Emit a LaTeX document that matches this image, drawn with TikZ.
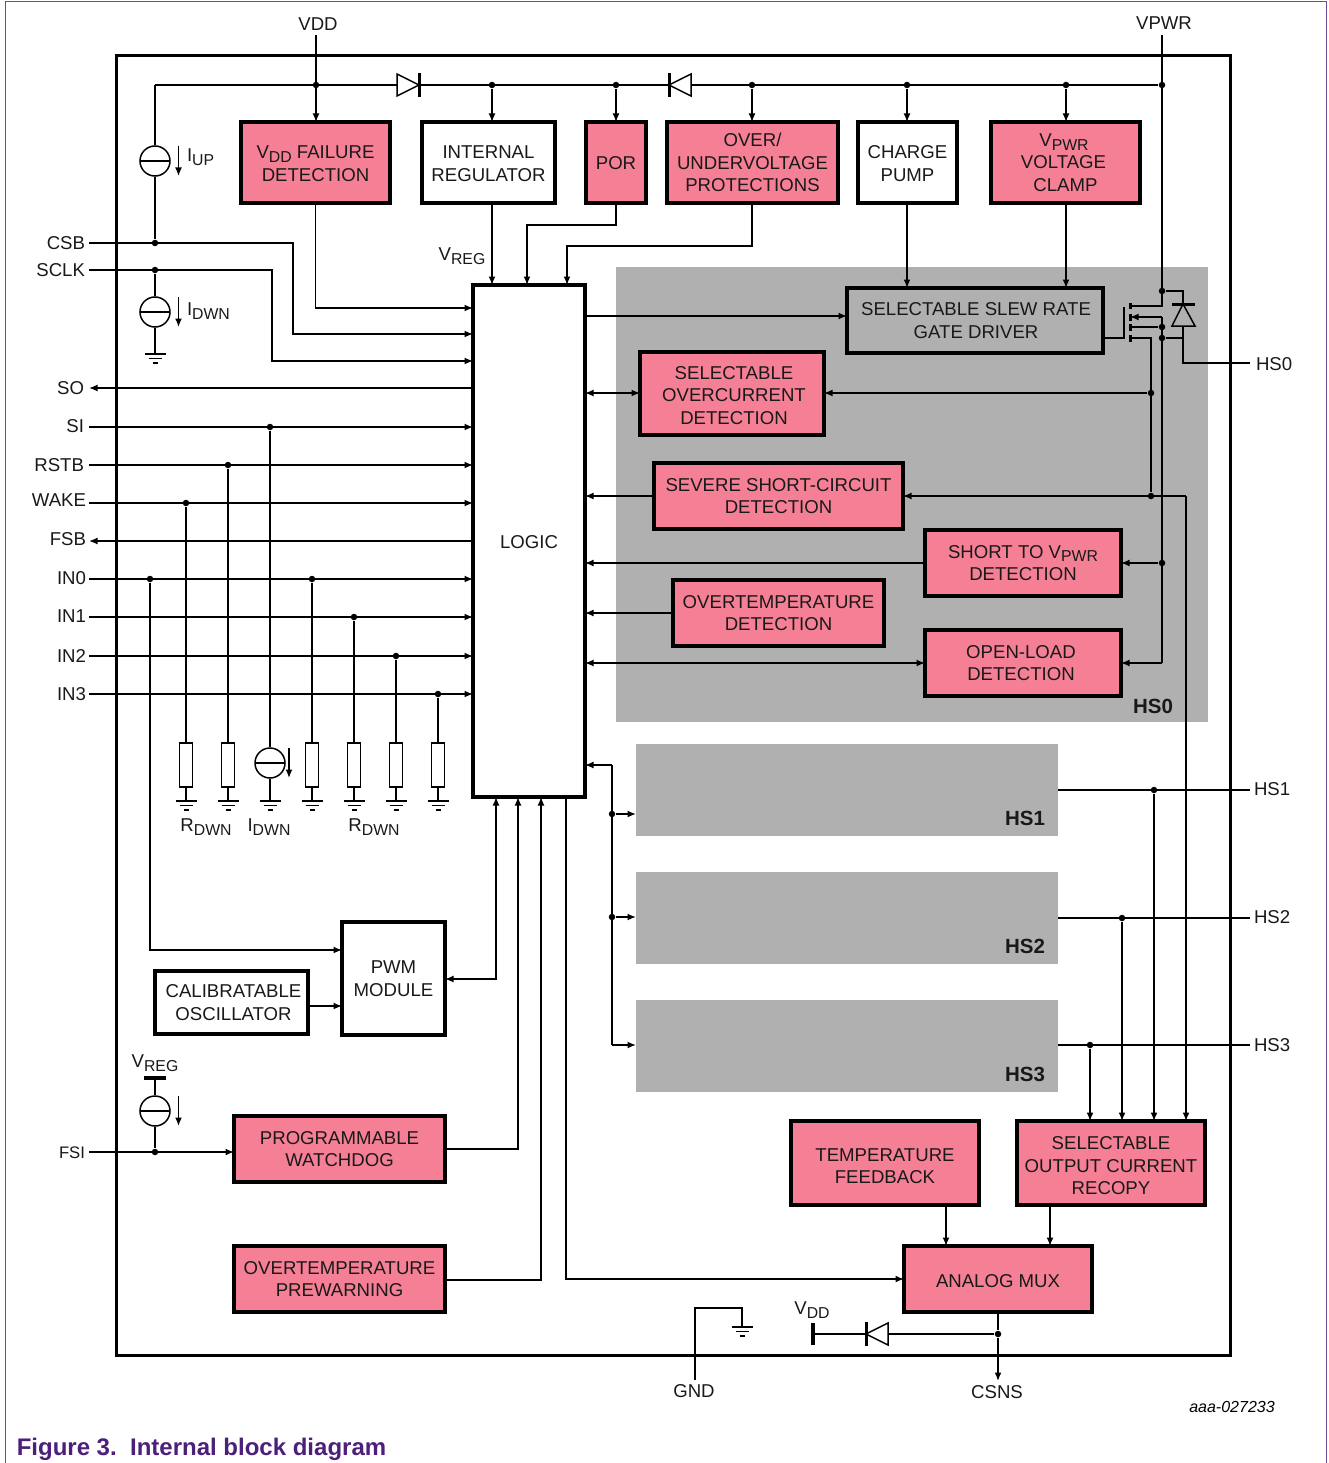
\documentclass[tikz,border=0pt]{standalone}
\usepackage{fontspec}
\setmainfont{Liberation Sans}
\usetikzlibrary{arrows.meta,calc}
\definecolor{pinkf}{HTML}{F58095}
\definecolor{grayf}{HTML}{B0B0B0}
\definecolor{framec}{HTML}{6B4A96}
\definecolor{capc}{HTML}{4B1F7A}
\newcommand{\lw}[1]{\raisebox{-0.2em}{\fontsize{15.8}{16}\selectfont #1}}
\newcommand{\dn}[1]{\rule{0pt}{#1pt}}
\newcommand{\blk}[7]{\node[#2,minimum width={(#5-#3)*1pt},minimum height={(#6-#4)*1pt}] (#1) at ({(#3+#5)/2},{(#4+#6)/2}) {#7};}
\newcommand{\diode}[4]{%
  \draw[thinl,fill=#4,line join=miter] ({#1},{#2-11}) -- ({#1+#3*22},{#2}) -- ({#1},{#2+11}) -- cycle;
  \draw[line width=3pt] ({#1+#3*22},{#2-12}) -- ({#1+#3*22},{#2+12});}
\newcommand{\curarrow}[2]{\draw[arr] ([xshift=#2pt,yshift=15pt]#1.center) -- ([xshift=#2pt,yshift=-15pt]#1.center);}
\tikzset{
  x=1pt,y=-1pt,
  thinl/.style={line width=1.5pt},
  every path/.append style={line width=1.5pt},
  arr/.style={line width=1.5pt,-{Latex[length=8.5pt,width=7pt]}},
  arrb/.style={line width=1.5pt,{Latex[length=8.5pt,width=7pt]}-{Latex[length=8.5pt,width=7pt]}},
  txt/.style={font=\fontsize{18.6}{22.5}\selectfont,align=center,inner sep=0pt,outer sep=0pt,text=black!90},
  pinkbox/.style={txt,draw=black,fill=pinkf,line width=3.2pt},
  whitebox/.style={txt,draw=black,fill=white,line width=3.2pt},
  graybox/.style={txt,draw=black,line width=3.2pt},
  shade/.style={fill=grayf,draw=none,inner sep=0pt,outer sep=0pt},
  lab/.style={txt},
  hsl/.style={font=\fontsize{20.5}{22}\selectfont\bfseries,inner sep=0pt,text=black!90},
  dot/.style={circle,fill=black,draw=none,inner sep=0pt,minimum size=6.5pt},
  csrc/.style={circle,draw=black,line width=1.5pt,fill=white,inner sep=0pt,minimum size=30pt,
    path picture={\draw[line width=1.5pt] (path picture bounding box.west) -- (path picture bounding box.east);}},
  res/.style={rectangle,draw=black,line width=1.5pt,fill=white,inner sep=0pt,minimum width=13pt,minimum height=44pt},
  gnd/.pic={\draw[line width=1.5pt] (-10.5,0) -- (10.5,0) (-6.5,4.5) -- (6.5,4.5) (-2.5,9) -- (2.5,9);}
}
\begin{document}
\begin{tikzpicture}
\useasboundingbox (0,0) rectangle (1328,1463);
\fill[white] (0,0) rectangle (1328,1463);
% outer page frame
\draw[framec,line width=1pt] (5,1463) -- (5,2) -- (1326,2) -- (1326,1463);
% gray regions
\blk{hsz}{shade}{616}{267}{1208}{722}{}
\blk{hsa}{shade}{636}{744}{1058}{836}{}
\blk{hsb}{shade}{636}{872}{1058}{964}{}
\blk{hsc}{shade}{636}{1000}{1058}{1092}{}
\node[hsl] (lhsz) at (1153,706) {HS0};
\node[hsl] (lhsa) at (1025,818) {HS1};
\node[hsl] (lhsb) at (1025,946) {HS2};
\node[hsl] (lhsc) at (1025,1074) {HS3};
% chip frame
\draw[line width=3pt] (116,55.5) rectangle (1230,1355);
% blocks
\blk{vddf}{pinkbox}{241}{122}{390}{203}{\dn{15}V\lw{DD} FAILURE\\DETECTION}
\blk{ireg}{whitebox}{422}{122}{555}{203}{\dn{15}INTERNAL\\REGULATOR}
\blk{por}{pinkbox}{586}{122}{646}{203}{\dn{15}POR}
\blk{ovuv}{pinkbox}{667}{122}{838}{203}{OVER/\\UNDERVOLTAGE\\PROTECTIONS}
\blk{cp}{whitebox}{858}{122}{957}{203}{\dn{15}CHARGE\\PUMP}
\blk{clamp}{pinkbox}{991}{122}{1140}{203}{\hspace*{-3pt}V\lw{PWR}\\\hspace*{-4pt}VOLTAGE\\CLAMP}
\blk{logic}{whitebox}{473}{285}{585}{797}{\dn{15}LOGIC}
\blk{slew}{graybox}{847}{288}{1103}{353}{\hspace*{2pt}SELECTABLE SLEW RATE\\\hspace*{2pt}GATE DRIVER}
\blk{ocd}{pinkbox}{640}{352}{824}{435}{\dn{17}\hspace*{4pt}SELECTABLE\\\hspace*{4pt}OVERCURRENT\\\hspace*{4pt}DETECTION}
\blk{sev}{pinkbox}{654}{463}{903}{529}{SEVERE SHORT-CIRCUIT\\DETECTION}
\blk{stv}{pinkbox}{925}{530}{1121}{596}{SHORT TO V\lw{PWR}\\DETECTION}
\blk{ote}{pinkbox}{673}{580}{884}{646}{OVERTEMPERATURE\\DETECTION}
\blk{old}{pinkbox}{925}{630}{1121}{696}{\hspace*{-4pt}OPEN-LOAD\\\hspace*{-4pt}DETECTION}
\blk{pwm}{whitebox}{342}{922}{445}{1035}{PWM\\MODULE}
\blk{osc}{whitebox}{155}{971}{308}{1034}{\hspace*{4pt}CALIBRATABLE\\\hspace*{4pt}OSCILLATOR}
\blk{wd}{pinkbox}{234}{1116}{445}{1182}{PROGRAMMABLE\\WATCHDOG}
\blk{otw}{pinkbox}{234}{1246}{445}{1312}{OVERTEMPERATURE\\PREWARNING}
\blk{tfb}{pinkbox}{791}{1121}{979}{1205}{\dn{19}TEMPERATURE\\FEEDBACK}
\blk{rec}{pinkbox}{1017}{1121}{1205}{1205}{\dn{19}SELECTABLE\\OUTPUT CURRENT\\RECOPY}
\blk{mux}{pinkbox}{904}{1246}{1092}{1312}{\dn{17}ANALOG MUX}
% pin labels
\node[lab] (tvdd) at (318,24) {VDD};
\node[lab] (tvpwr) at (1164,23) {VPWR};
\node[lab,anchor=east] (tcsb) at (85,243) {CSB};
\node[lab,anchor=east] (tsclk) at (85,270) {SCLK};
\node[lab,anchor=east] (tso) at (84,388) {SO};
\node[lab,anchor=east] (tsi) at (84,426) {SI};
\node[lab,anchor=east] (trstb) at (84,465) {RSTB};
\node[lab,anchor=east] (twake) at (86,500.5) {WAKE};
\node[lab,anchor=east] (tfsb) at (86,539) {FSB};
\node[lab,anchor=east] (tina) at (86,578) {IN0};
\node[lab,anchor=east] (tinb) at (86,616) {IN1};
\node[lab,anchor=east] (tinc) at (86,656) {IN2};
\node[lab,anchor=east] (tind) at (86,694) {IN3};
\node[lab,anchor=east,font=\fontsize{16.7}{20}\selectfont] (tfsi) at (85,1153) {FSI};
\node[lab,anchor=west] (thsz) at (1256,364) {HS0};
\node[lab,anchor=west] (thsa) at (1254,789) {HS1};
\node[lab,anchor=west] (thsb) at (1254,917) {HS2};
\node[lab,anchor=west] (thsc) at (1254,1045) {HS3};
\node[lab] (tgnd) at (694,1391) {GND};
\node[lab] (tcsns) at (997,1392.5) {CSNS};
\node[lab] (tvrega) at (462,256) {V\lw{REG}};
\node[lab] (tvregb) at (155,1063) {V\lw{REG}};
\node[lab] (tvddb) at (812,1310) {V\lw{DD}};
\node[lab,anchor=west] (tiup) at (187,157) {I\lw{UP}};
\node[lab,anchor=west] (tidwn) at (187,311) {I\lw{DWN}};
\node[lab] (trda) at (206,827) {R\lw{DWN}};
\node[lab] (tidb) at (269,827) {I\lw{DWN}};
\node[lab] (trdb) at (374,827) {R\lw{DWN}};
\node[font=\fontsize{16}{18}\selectfont\itshape,inner sep=0pt] (tcode) at (1232,1407) {aaa-027233};
\node[font=\fontsize{24}{26}\selectfont\bfseries,text=capc,anchor=west,inner sep=0pt] (tcap) at (16,1449) {Figure 3.\ \ Internal block diagram};
% free-end coordinates
\coordinate (pvdd) at (316,35);
\coordinate (pvpwr) at (1162,35);
\coordinate (pcsb) at (89,243);
\coordinate (psclk) at (89,270);
\coordinate (pso) at (89,388);
\coordinate (psi) at (89,427);
\coordinate (prstb) at (89,465);
\coordinate (pwake) at (89,503);
\coordinate (pfsb) at (89,541);
\coordinate (pina) at (89,579);
\coordinate (pinb) at (89,617);
\coordinate (pinc) at (89,656);
\coordinate (pind) at (89,694);
\coordinate (pfsi) at (89,1152);
\coordinate (phsz) at (1250,363);
\coordinate (phsa) at (1250,790);
\coordinate (phsb) at (1250,918);
\coordinate (phsc) at (1250,1045);
\coordinate (pgnd) at (695,1380);
\coordinate (pcsns) at (998,1381);
% top rail
\node[dot] (ra) at (316,85) {};
\node[dot] (rb) at (492,85) {};
\node[dot] (rc) at (616,85) {};
\node[dot] (rd) at (752,85) {};
\node[dot] (re) at (907,85) {};
\node[dot] (rf) at (1066,85) {};
\node[dot] (rg) at (1162,85) {};
\coordinate (rcnr) at (155,85);
\draw (rg) -- (rcnr);
\diode{397}{85}{1}{white}
\diode{691}{85}{-1}{white}
\draw[arr] (pvdd) -- (pvdd |- vddf.north);
\draw[arr] (rb) -- (rb |- ireg.north);
\draw[arr] (rc) -- (rc |- por.north);
\draw[arr] (rd) -- (rd |- ovuv.north);
\draw[arr] (re) -- (re |- cp.north);
\draw[arr] (rf) -- (rf |- clamp.north);
% left current sources
\node[csrc] (iup) at (155,161) {};
\node[dot] (dcsb) at (155,243) {};
\node[dot] (dsclk) at (155,270) {};
\node[csrc] (idn) at (155,312) {};
\coordinate (gidn) at (155,354);
\draw (rcnr) -- (iup);
\draw (iup) -- (dcsb);
\draw (dsclk) -- (idn);
\draw (idn) -- (gidn);
\pic at (gidn) {gnd};
\curarrow{iup}{23.5}
\curarrow{idn}{23.5}
% block outputs to logic
\coordinate (lvddf) at (473,308);
\coordinate (lcsb) at (473,334);
\coordinate (lsclk) at (473,361);
\draw[arr] (vddf.south) |- (lvddf);
\draw[arr] (pcsb) -- (293,243) -- (293,334) -- (lcsb);
\draw[arr] (psclk) -- (272,270) -- (272,361) -- (lsclk);
\draw[arr] (ireg.south -| rb) -- (rb |- logic.north);
\coordinate (lpor) at (527,285);
\coordinate (lov) at (567,285);
\draw[arr] (rc |- por.south) -- (616,225) -- (527,225) -- (lpor);
\draw[arr] (rd |- ovuv.south) -- (752,246) -- (567,246) -- (lov);
\draw[arr] (re |- cp.south) -- (re |- slew.north);
\draw[arr] (rf |- clamp.south) -- (rf |- slew.north);
\draw[arr] (585,316) -- (slew.west |- 0,316);
% left pins
\draw[arr] (logic.west |- pso) -- (pso);
\draw[arr] (psi) -- (logic.west |- psi);
\draw[arr] (prstb) -- (logic.west |- prstb);
\draw[arr] (pwake) -- (logic.west |- pwake);
\draw[arr] (logic.west |- pfsb) -- (pfsb);
\draw[arr] (pina) -- (logic.west |- pina);
\draw[arr] (pinb) -- (logic.west |- pinb);
\draw[arr] (pinc) -- (logic.west |- pinc);
\draw[arr] (pind) -- (logic.west |- pind);
% pulldowns
\node[dot] (da) at (186,503) {};
\node[dot] (db) at (228,465) {};
\node[dot] (dc) at (270,427) {};
\node[dot] (dd) at (312,579) {};
\node[dot] (de) at (354,617) {};
\node[dot] (df) at (396,656) {};
\node[dot] (dg) at (438,694) {};
\node[res] (ra1) at (186,765) {};
\node[res] (rb1) at (228,765) {};
\node[csrc] (ic1) at (270,763) {};
\node[res] (rd1) at (312,765) {};
\node[res] (re1) at (354,765) {};
\node[res] (rf1) at (396,765) {};
\node[res] (rg1) at (438,765) {};
\coordinate (ga) at (186,801);
\coordinate (gb) at (228,801);
\coordinate (gc) at (270,801);
\coordinate (gd) at (312,801);
\coordinate (ge) at (354,801);
\coordinate (gf) at (396,801);
\coordinate (gg) at (438,801);
\foreach \t/\m/\b in {da/ra1/ga,db/rb1/gb,dc/ic1/gc,dd/rd1/gd,de/re1/ge,df/rf1/gf,dg/rg1/gg}{
  \draw (\t) -- (\m);
  \draw (\m) -- (\b);
  \pic at (\b) {gnd};
}
\curarrow{ic1}{19}
% PWM etc.
\node[dot] (dina) at (150,579) {};
\draw[arr] (dina) |- (pwm.west |- 0,950);
\draw[arr] (osc.east |- 0,1006) -- (pwm.west |- 0,1006);
\coordinate (cpwm) at (496,979);
\draw[arrb] (pwm.east |- cpwm) -- (cpwm) -- (cpwm |- logic.south);
\draw[arr] (wd.east |- 0,1149) -- (518,1149) -- (518,797);
\draw[arr] (otw.east |- 0,1280) -- (541,1280) -- (541,797);
\draw[arr] (566,797) -- (566,1279) -- (mux.west |- 0,1279);
% FSI
\node[dot] (dfsi) at (155,1152) {};
\node[csrc] (ifs) at (155,1111) {};
\coordinate (bvreg) at (155,1078);
\draw[arr] (pfsi) -- (wd.west |- pfsi);
\draw (bvreg) -- (ifs);
\draw (ifs) -- (dfsi);
\draw[line width=4pt] ([xshift=-11pt]bvreg) -- ([xshift=11pt]bvreg);
\curarrow{ifs}{23.5}
% HS1-3 bus to logic
\coordinate (busa) at (612,765);
\node[dot] (busb) at (612,814) {};
\node[dot] (busc) at (612,917) {};
\coordinate (busd) at (612,1045);
\draw[arr] (busa) -- (logic.east |- busa);
\draw (busa) -- (busd);
\draw[arr] (busb) -- (hsa.west |- busb);
\draw[arr] (busc) -- (hsb.west |- busc);
\draw[arr] (busd) -- (hsc.west |- busd);
% HS0 internal
\node[dot] (doc) at (1151,393) {};
\node[dot] (dsv) at (1151,496) {};
\coordinate (csv) at (1186,496);
\node[dot] (dst) at (1162,563) {};
\coordinate (cop) at (1162,663);
\draw[arrb] (logic.east |- doc) -- (ocd.west |- doc);
\draw[arr] (doc) -- (ocd.east |- doc);
\draw[arr] (sev.west |- dsv) -- (logic.east |- dsv);
\draw[arr] (csv) -- (sev.east |- csv);
\draw[arr] (stv.west |- dst) -- (logic.east |- dst);
\draw[arr] (dst) -- (stv.east |- dst);
\draw[arr] (ote.west |- 0,613) -- (logic.east |- 0,613);
\draw[arrb] (logic.east |- cop) -- (old.west |- cop);
\draw[arr] (cop) -- (old.east |- cop);
% MOSFET and rails
\node[dot] (mtop) at (1162,291) {};
\node[dot] (mmid) at (1162,327) {};
\node[dot] (mlow) at (1162,338) {};
\coordinate (mdr) at (1130,306);
\coordinate (mar) at (1130,317);
\coordinate (mso) at (1130,338);
\coordinate (msb) at (1130,327);
\draw (pvpwr) -- (1162,306) -- (mdr);
\draw[arr] (1162,317) -- (mar);
\draw (1162,317) -- (cop);
\draw (msb) -- (mmid);
\draw (mso) -- (1151,338) -- (dsv);
\draw (slew.east |- mso) -- (1124,338) -- (1124,307);
\draw[line width=3pt] (1130,303) -- (1130,309) (1130,313.5) -- (1130,320.5) (1130,324) -- (1130,331) (1130,335) -- (1130,342);
\draw (mtop) -- (1183,291) -- (1183,304);
\draw (mlow) -- (1183,338);
\draw (1183,326) -- (1183,363) -- (phsz);
\draw[fill=grayf,line join=miter] (1183,304) -- (1195,326) -- (1172,326) -- cycle;
\draw[line width=3pt] (1172,304) -- (1195,304);
\draw[arr] (csv) -- (csv |- rec.north);
% HS outputs
\node[dot] (dha) at (1154,790) {};
\node[dot] (dhb) at (1122,918) {};
\node[dot] (dhc) at (1090,1045) {};
\draw (hsa.east |- phsa) -- (phsa);
\draw (hsb.east |- phsb) -- (phsb);
\draw (hsc.east |- phsc) -- (phsc);
\draw[arr] (dha) -- (dha |- rec.north);
\draw[arr] (dhb) -- (dhb |- rec.north);
\draw[arr] (dhc) -- (dhc |- rec.north);
% mux
\draw[arr] (tfb.south -| 946,0) -- (mux.north -| 946,0);
\draw[arr] (rec.south -| 1050,0) -- (mux.north -| 1050,0);
\node[dot] (dmx) at (998,1334) {};
\coordinate (bvdd) at (813,1334);
\draw (mux.south -| dmx) -- (dmx);
\draw[arr] (dmx) -- (pcsns);
\draw (dmx) -- (bvdd);
\diode{888}{1334}{-1}{white}
\draw[line width=4pt] ([yshift=11pt]bvdd) -- ([yshift=-11pt]bvdd);
% GND
\coordinate (ggnd) at (742,1327);
\draw (pgnd) -- (695,1308) -- (742,1308) -- (ggnd);
\pic at (ggnd) {gnd};
\end{tikzpicture}
\end{document}
